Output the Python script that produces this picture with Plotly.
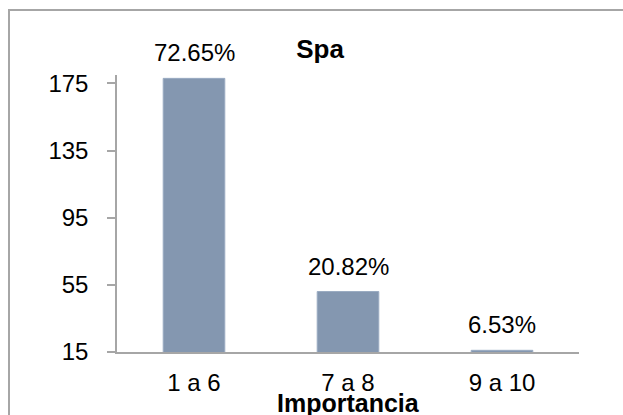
import plotly.graph_objects as go

# Importance ratings for the spa, grouped into score ranges
categories = ["1 a 6", "7 a 8", "9 a 10"]
counts = [178, 51, 16]
y_ticks = [15, 55, 95, 135, 175]

total = sum(counts)
shares = [c / total * 100 for c in counts]
labels = [f"{s:.2f}%" for s in shares]

W, H = 623, 415
L, R, T, B = 117, 44, 75, 63
pw, ph = W - L - R, H - T - B

def px_x(x):
    return (x - L) / pw

def px_y(y):
    return (H - B - y) / ph

FONT = "Liberation Sans, Arial, sans-serif"
GRAY = "#a6a6a6"

fig = go.Figure()
fig.add_trace(go.Bar(
    x=categories,
    y=counts,
    marker=dict(color="#8497b0", line=dict(color="#9aabc2", width=1)),
    width=0.4,
    hoverinfo="skip",
))

# percentage labels above each bar
for cat, val, lab in zip(categories, counts, labels):
    fig.add_annotation(
        x=cat, y=val, text=lab, showarrow=False,
        yanchor="bottom", yshift=10,
        font=dict(family=FONT, size=24, color="#000000"),
    )

# axis title under the category labels
fig.add_annotation(
    xref="paper", yref="paper", x=0.5, y=px_y(403),
    text="<b>Importancia</b>", showarrow=False, yanchor="middle",
    font=dict(family="Liberation Sans Narrow, Arial Narrow, " + FONT, size=25, color="#000000"),
)

# chart frame: left and top edges
fig.add_shape(
    type="line", xref="paper", yref="paper",
    x0=px_x(9), x1=px_x(9), y0=px_y(H), y1=px_y(10),
    line=dict(color=GRAY, width=2), layer="below",
)
fig.add_shape(
    type="line", xref="paper", yref="paper",
    x0=px_x(8), x1=px_x(W), y0=px_y(10), y1=px_y(10),
    line=dict(color=GRAY, width=2), layer="below",
)

fig.update_layout(
    width=W, height=H,
    margin=dict(l=L, r=R, t=T, b=B, pad=0),
    paper_bgcolor="white", plot_bgcolor="white",
    showlegend=False,
    title=dict(
        text="<b>Spa</b>", x=320 / W, xanchor="center",
        y=1 - 49 / H, yanchor="middle",
        font=dict(family=FONT, size=26, color="#000000"),
    ),
    xaxis=dict(
        type="category", showgrid=False, zeroline=False,
        showline=True, linecolor=GRAY, linewidth=1.5,
        ticks="", ticklabelstandoff=8,
        tickfont=dict(family=FONT, size=24, color="#000000"),
        range=[-0.5, 2.5],
    ),
    yaxis=dict(
        range=[15, 180], tickvals=y_ticks, ticktext=[str(v) for v in y_ticks],
        showgrid=False, zeroline=False,
        showline=True, linecolor=GRAY, linewidth=1.5,
        ticks="outside", ticklen=8, tickcolor=GRAY, tickwidth=1.5,
        ticklabelstandoff=14,
        tickfont=dict(family=FONT, size=24, color="#000000"),
    ),
)

fig.write_html("out.html", config={"displayModeBar": False})
